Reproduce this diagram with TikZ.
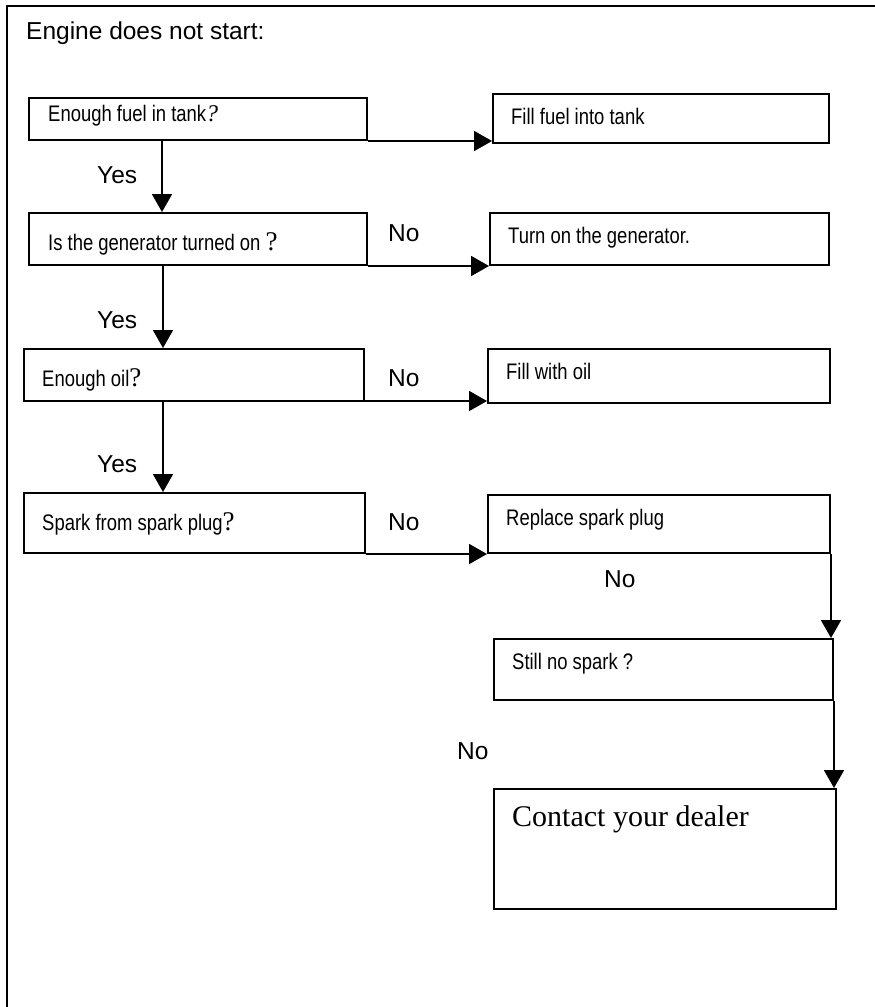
\documentclass[tikz,border=0pt]{standalone}
\usepackage{fontspec}
\setmainfont{Liberation Sans}
\newfontfamily\narrowfont[FakeStretch=0.82]{Liberation Sans}
\newfontfamily\timesfont{Liberation Serif}
\usetikzlibrary{arrows.meta,calc}
\tikzset{
  box/.style={draw,line width=2pt,rectangle,anchor=north west,inner sep=0pt},
  arr/.style={line width=1.8pt,-{Triangle[length=18pt,width=20pt]}},
  txt/.style={anchor=base west,inner sep=0pt,font=\narrowfont\fontsize{22.5}{24}\selectfont},
  lbl/.style={anchor=base west,inner sep=0pt,font=\fontsize{24.5}{26}\selectfont},
  frame/.style={line width=2pt}
}
\newcommand{\sq}{{\timesfont\fontsize{27}{28}\selectfont ?}}
\begin{document}
\begin{tikzpicture}[x=1pt,y=-1pt]
\useasboundingbox (0,0) rectangle (875,1007);
\draw[frame] (7,1007) -- (7,6) -- (875,6);
\node[lbl] (title) at (26,39) {Engine does not start:};
% left column
\node[box,minimum width=338pt,minimum height=42pt] (b1) at (28,97) {};
\node[box,minimum width=338pt,minimum height=52pt] (b2) at (28,212) {};
\node[box,minimum width=340pt,minimum height=52pt] (b3) at (23,348) {};
\node[box,minimum width=341pt,minimum height=60pt] (b4) at (23,492) {};
% right column
\node[box,minimum width=336pt,minimum height=49pt] (b5) at (492,93) {};
\node[box,minimum width=339pt,minimum height=52pt] (b6) at (489,212) {};
\node[box,minimum width=342pt,minimum height=54pt] (b7) at (487,348) {};
\node[box,minimum width=342pt,minimum height=58pt] (b8) at (487,494) {};
\node[box,minimum width=339pt,minimum height=61pt] (b9) at (493,638) {};
\node[box,minimum width=342pt,minimum height=120pt] (b10) at (493,788) {};
% texts
\node[txt] (t1) at (48,121) {Enough fuel in tank{\timesfont\itshape\fontsize{24}{26}\selectfont ?}};
\node[txt] (t2) at (48,250) {Is the generator turned on \sq};
\node[txt] (t3) at (42,386) {Enough oil\sq};
\node[txt] (t4) at (42,530) {Spark from spark plug\sq};
\node[txt] (t5) at (511,124) {Fill fuel into tank};
\node[txt] (t6) at (508,243) {Turn on the generator.};
\node[txt] (t7) at (506,379) {Fill with oil};
\node[txt] (t8) at (506,525) {Replace spark plug};
\node[txt] (t9) at (512,669) {Still no spark ?};
\node[anchor=base west,inner sep=0pt,font=\timesfont\fontsize{30}{32}\selectfont] (t10) at (512,826) {Contact your dealer};
% connectors
\draw[arr] (b1.south east) -- (b1.south east -| b5.west);
\draw[arr] ([xshift=134pt]b1.south west) -- ([xshift=134pt]b1.south west |- b2.north);
\draw[arr] (b2.south east) -- (b6.south west);
\draw[arr] ([xshift=135pt]b2.south west) -- ([xshift=135pt]b2.south west |- b3.north);
\draw[arr] ([yshift=1pt]b3.south east) -- ([yshift=1pt]b3.south east -| b7.west);
\draw[arr] ([xshift=140pt]b3.south west) -- ([xshift=140pt]b3.south west |- b4.north);
\draw[arr] (b4.south east) -- (b4.south east -| b8.west);
\draw[arr] (b8.south east) -- (b8.south east |- b9.north);
\draw[arr] (b9.south east) -- (b9.south east |- b10.north);
% labels
\node[lbl] (y1) at (97,183) {Yes};
\node[lbl] (y2) at (97,328) {Yes};
\node[lbl] (y3) at (97,472) {Yes};
\node[lbl] (n1) at (388,241) {No};
\node[lbl] (n2) at (388,386) {No};
\node[lbl] (n3) at (388,530) {No};
\node[lbl] (n4) at (604,587) {No};
\node[lbl] (n5) at (457,759) {No};
\end{tikzpicture}
\end{document}
